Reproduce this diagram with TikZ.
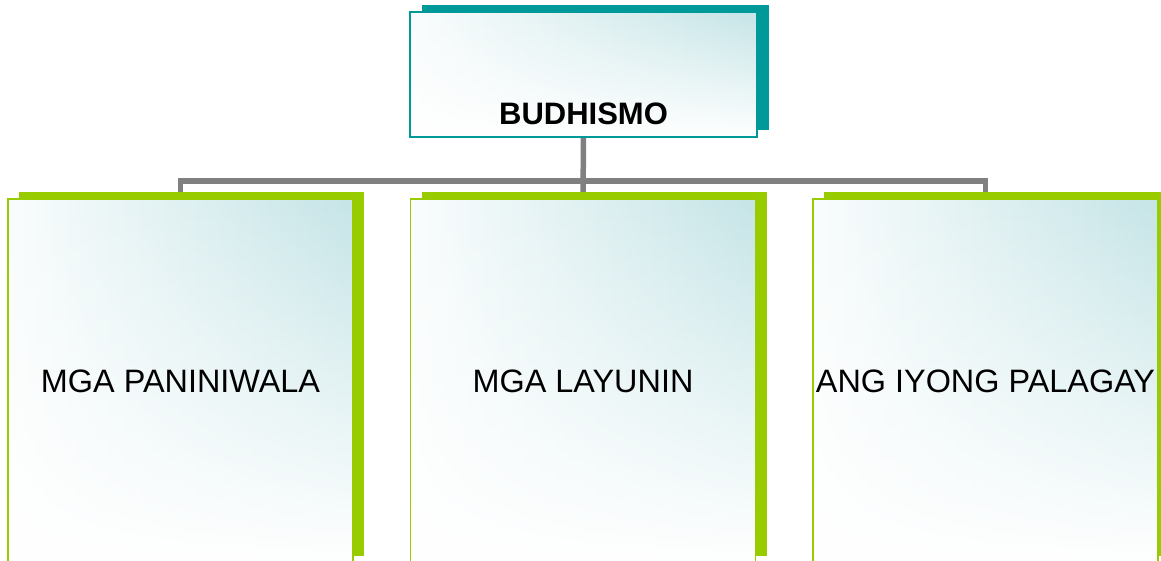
\documentclass[tikz,border=0pt]{standalone}
\usepackage{fontspec}
\setmainfont{Liberation Sans}
\usetikzlibrary{positioning,backgrounds,fadings}

\definecolor{tealdark}{HTML}{009999}
\definecolor{tealpale}{HTML}{BCE0E3}
\definecolor{leafgreen}{HTML}{99CC00}
\definecolor{linegray}{HTML}{808080}

\pgfdeclarehorizontalshading{boxwash}{100bp}{color(0bp)=(white); color(20bp)=(white);
    color(84bp)=(tealpale); color(100bp)=(tealpale)}

\begin{document}
\begin{tikzpicture}[x=1pt, y=-1pt, node distance=57.5pt,
    washed/.style={path picture={
        \shade[shading=boxwash] (path picture bounding box.south west) rectangle (path picture bounding box.north east);
        \fill[white, path fading=north] (path picture bounding box.south west) rectangle (path picture bounding box.north east);}},
    topbox/.style={washed, draw=tealdark, line width=1.8pt, inner sep=0pt, outer sep=0pt,
        minimum width=347pt, minimum height=125pt, text height=101pt, text depth=0pt,
        font=\fontsize{31}{36}\selectfont\bfseries},
    childbox/.style={washed, draw=leafgreen, line width=1.8pt, inner sep=0pt, outer sep=0pt,
        minimum width=345pt, minimum height=364pt,
        font=\fontsize{32.4}{36}\selectfont},
    connector/.style={draw=linegray, line width=5.5pt}]
    \useasboundingbox (0,0) rectangle (1161,561);

    \node[topbox] (budhismo) at (583.5,74.5) {BUDHISMO};
    \node[childbox] (paniniwala) at (180.5,381) {MGA PANINIWALA};
    \node[childbox, right=of paniniwala] (layunin) {MGA LAYUNIN};
    \node[childbox, right=of layunin] (palagay) {ANG IYONG PALAGAY};

    \begin{scope}[on background layer]
        \draw[connector] (budhismo.south) -- (layunin.north);
        \draw[connector] (paniniwala.north) -- ++(0,-18) -| (palagay.north);
        % shadows
        \fill[tealdark] ([shift={(11.5pt,7pt)}]budhismo.south west) rectangle ([shift={(11.5pt,7pt)}]budhismo.north east);
        \fill[leafgreen] ([shift={(11pt,7pt)}]paniniwala.south west) rectangle ([shift={(11pt,7pt)}]paniniwala.north east);
        \fill[leafgreen] ([shift={(11pt,7pt)}]layunin.south west) rectangle ([shift={(11pt,7pt)}]layunin.north east);
        \fill[leafgreen] ([shift={(11pt,7pt)}]palagay.south west) rectangle ([shift={(11pt,7pt)}]palagay.north east);
    \end{scope}
\end{tikzpicture}
\end{document}
